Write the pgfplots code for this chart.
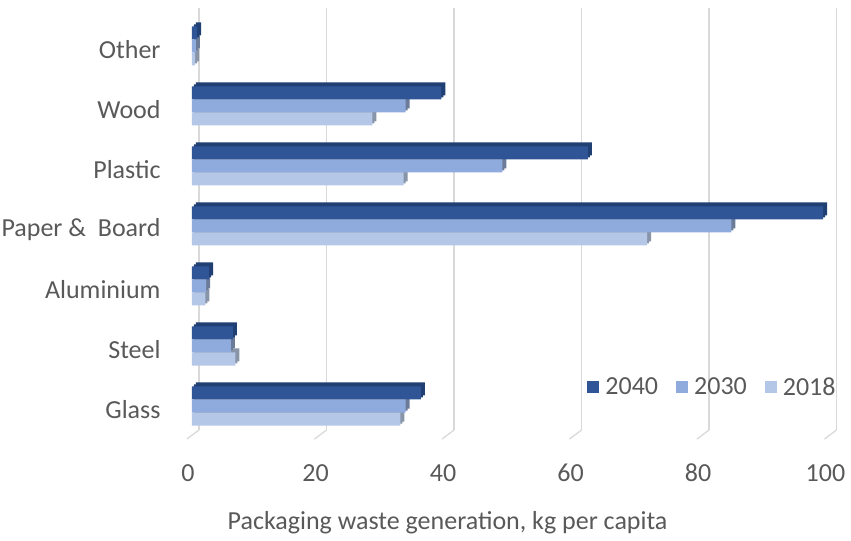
\documentclass[border=0pt]{standalone}
\usepackage{pgfplots}
\pgfplotsset{compat=1.18}
\usepackage{pgfplotstable}
\usepackage{fontspec}
\setmainfont{Carlito}
\definecolor{c40}{HTML}{2F5597}
\definecolor{c30}{HTML}{8FAADC}
\definecolor{c18}{HTML}{B4C7E7}
\definecolor{d40}{HTML}{203F73}
\definecolor{d30}{HTML}{6C7C98}
\definecolor{d18}{HTML}{8894A8}
\definecolor{txt}{HTML}{595959}
\definecolor{grd}{HTML}{D9D9D9}
\pgfplotstableread{
y v2018 v2030 v2040
0 32.7 33.5 35.9
1 6.8 6.1 6.4
2 2.1 2.2 2.7
3 71.4 84.6 99.0
4 33.2 48.7 62.1
5 28.3 33.5 39.1
6 0.5 0.6 0.8
}\datatable
\begin{document}
\begin{tikzpicture}
\useasboundingbox (-192bp,-111bp) rectangle (659bp,430bp);
\begin{axis}[
  scale only axis, width=637.5bp, height=422bp, clip=false,
  xmin=0, xmax=100, ymin=-0.4, ymax=6.633,
  xbar, bar width=0.2167,
  axis line style={draw=none}, tick style={draw=none},
  xtick={0,20,...,100}, xmajorgrids,
  grid style={grd, line width=1.3bp, xshift=7bp},
  ytick={0,...,6},
  yticklabels={Glass,Steel,Aluminium,Paper \&~ Board,Plastic,Wood,Other},
  /pgf/number format/assume math mode=true,
  tick label style={font=\fontsize{26bp}{30bp}\selectfont, text=txt},
  yticklabel style={inner sep=0pt, anchor=east, xshift=-27bp, yshift=-4bp},
  xticklabel style={inner sep=0pt, anchor=base, yshift=-51bp, xshift=-4bp},
  xlabel={Packaging waste generation, kg per capita},
  x label style={at={(rel axis cs:0.4008,0)}, anchor=base, yshift=-99bp, inner sep=0pt,
    font=\fontsize{26bp}{30bp}\selectfont, text=txt},
  legend columns=3,
  legend style={at={(axis cs:62,0.317)}, anchor=west, draw=none, fill=none, inner sep=0pt,
    font=\fontsize{26bp}{30bp}\selectfont, text=txt,
    nodes={inner sep=0pt, anchor=west},
    /tikz/every odd column/.append style={column sep=6bp},
    /tikz/every even column/.append style={column sep=18bp}},
]
\pgfplotsinvokeforeach{0,20,40,60,80,100}{
  \draw[grd, line width=1.3bp] ([xshift=7bp]axis cs:#1,-0.4) -- ([xshift=-5bp,yshift=-9bp]axis cs:#1,-0.4);
}
% depth faces
\addplot[draw=none, fill=d40, bar shift=0.2167, xshift=4bp, yshift=4bp, forget plot] table[x=v2040, y=y] {\datatable};
\addplot[draw=none, fill=d30, bar shift=0, xshift=4bp, yshift=4bp, forget plot] table[x=v2030, y=y] {\datatable};
\addplot[draw=none, fill=d18, bar shift=-0.2167, xshift=4bp, yshift=4bp, forget plot] table[x=v2018, y=y] {\datatable};
\addplot[draw=none, fill=d40, bar shift=0.2167, xshift=2bp, yshift=2bp, forget plot] table[x=v2040, y=y] {\datatable};
\addplot[draw=none, fill=d30, bar shift=0, xshift=2bp, yshift=2bp, forget plot] table[x=v2030, y=y] {\datatable};
\addplot[draw=none, fill=d18, bar shift=-0.2167, xshift=2bp, yshift=2bp, forget plot] table[x=v2018, y=y] {\datatable};
% front faces
\addplot[draw=none, fill=c40, bar shift=0.2167,
  legend image code/.code={\fill[c40] (0bp,-6bp) rectangle (12bp,6bp);}] table[x=v2040, y=y] {\datatable};
\addplot[draw=none, fill=c30, bar shift=0,
  legend image code/.code={\fill[c30] (0bp,-6bp) rectangle (12bp,6bp);}] table[x=v2030, y=y] {\datatable};
\addplot[draw=none, fill=c18, bar shift=-0.2167,
  legend image code/.code={\fill[c18] (0bp,-6bp) rectangle (12bp,6bp);}] table[x=v2018, y=y] {\datatable};
\legend{2040,2030,2018}
\end{axis}
\end{tikzpicture}
\end{document}
